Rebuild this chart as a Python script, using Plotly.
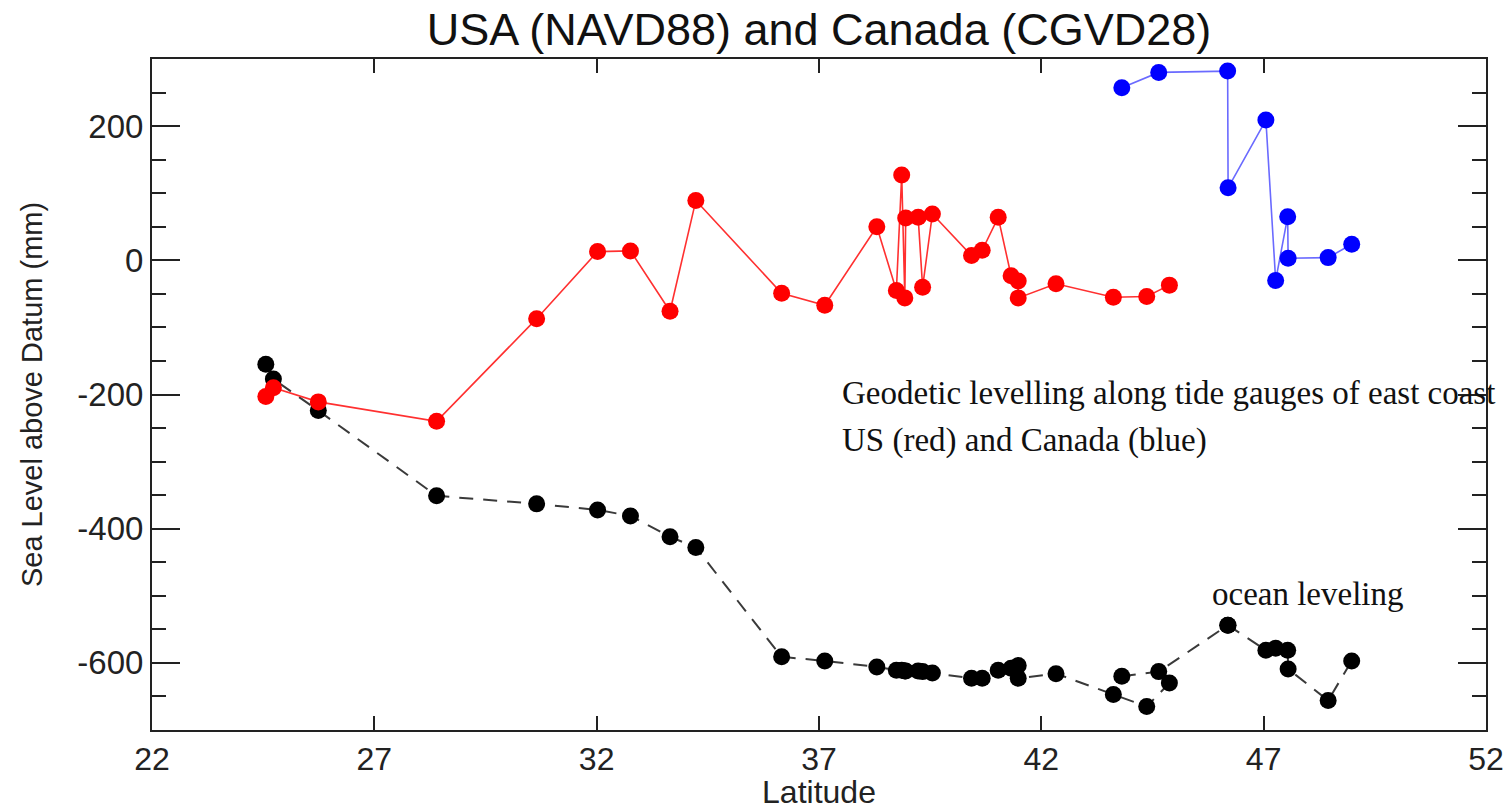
import plotly.graph_objects as go

# ---- data ----
lat_us = [24.56, 24.73, 25.74, 28.40, 30.65, 32.02, 32.76, 33.65, 34.23, 36.16,
          37.13, 38.30, 38.74, 38.86, 38.93, 38.95, 39.23, 39.33, 39.55, 40.43,
          40.67, 41.03, 41.32, 41.48, 41.48, 42.33, 43.62, 44.37, 44.88]
geodetic_us = [-203, -190, -211, -240, -87, 13, 14, -76, 89, -49,
               -67, 50, -45, 127, -56, 63, 64, -40, 69, 7,
               15, 64, -23, -31, -56, -35, -55, -54, -37]
ocean_us = [-155, -177, -224, -351, -363, -372, -381, -412, -428, -591,
            -597, -606, -611, -611, -612, -612, -612, -613, -615, -623,
            -623, -611, -608, -604, -623, -616, -647, -665, -630]

lat_ca = [43.81, 44.64, 46.19, 46.20, 47.05, 47.27, 47.54, 47.55, 48.45, 48.98]
geodetic_ca = [257, 280, 282, 108, 209, -30, 65, 3, 4, 24]
ocean_ca = [-620, -613, -544, -544, -581, -578, -581, -609, -656, -597]

x_ticks = [22, 27, 32, 37, 42, 47, 52]
y_ticks = [-600, -400, -200, 0, 200]
y_ticktext = ["-600", "-400", "-200", "0", "200"]

title_text = "USA (NAVD88) and Canada (CGVD28)"
note_line1 = "Geodetic levelling along tide gauges of east coast"
note_line2 = "US (red) and Canada (blue)"
note_ocean = "ocean leveling"

SANS = "Liberation Sans, Arial, sans-serif"
SERIF = "Liberation Serif, Times New Roman, serif"
AX = "#222222"

fig = go.Figure()

dash_style = "14px,10px"
fig.add_trace(go.Scatter(x=lat_us, y=ocean_us, mode="lines+markers",
                         line=dict(color="#3a3a3a", width=2, dash=dash_style),
                         marker=dict(color="black", size=17), showlegend=False))
fig.add_trace(go.Scatter(x=lat_ca, y=ocean_ca, mode="lines+markers",
                         line=dict(color="#3a3a3a", width=2, dash=dash_style),
                         marker=dict(color="black", size=17), showlegend=False))
fig.add_trace(go.Scatter(x=lat_us, y=geodetic_us, mode="lines+markers",
                         line=dict(color="#ff3030", width=1.6),
                         marker=dict(color="#ff0000", size=17), showlegend=False))
fig.add_trace(go.Scatter(x=lat_ca, y=geodetic_ca, mode="lines+markers",
                         line=dict(color="#6a6aff", width=1.6),
                         marker=dict(color="#0000ff", size=17), showlegend=False))

fig.update_layout(
    width=1511, height=810,
    margin=dict(l=152, r=25, t=59, b=80, autoexpand=False),
    paper_bgcolor="white", plot_bgcolor="white",
    title=dict(text=title_text, x=0.542, xanchor="center", y=1 - 29 / 810,
               yanchor="middle", yref="container", automargin=False,
               font=dict(family=SANS, size=45, color="#111111")),
    font=dict(family=SANS, color=AX),
)

fig.update_xaxes(
    range=[22, 52], tickvals=x_ticks, ticks="inside", ticklen=14, tickwidth=2,
    tickcolor=AX, showline=True, linewidth=2, linecolor=AX, mirror="ticks",
    showgrid=False, zeroline=False, automargin=False,
    tickfont=dict(family=SANS, size=32, color=AX),
    title=dict(text="Latitude", font=dict(family=SANS, size=32, color=AX), standoff=4),
)
fig.update_yaxes(
    range=[-700, 300], tickvals=y_ticks, ticktext=y_ticktext, ticks="inside",
    ticklen=28, tickwidth=2, tickcolor=AX, showline=True, linewidth=2,
    linecolor=AX, mirror="ticks", showgrid=False, zeroline=False, automargin=False,
    minor=dict(dtick=50, tick0=0, ticks="inside", ticklen=14, tickwidth=2,
               tickcolor=AX, showgrid=False),
    tickfont=dict(family=SANS, size=33, color=AX),
    title=dict(text="Sea Level above Datum (mm)",
               font=dict(family=SANS, size=29, color=AX), standoff=26),
)

fig.add_annotation(x=37.47, y=-198, xref="x", yref="y", text=note_line1,
                   showarrow=False, xanchor="left", yanchor="middle",
                   font=dict(family=SERIF, size=33, color="#111111"))
fig.add_annotation(x=37.47, y=-269, xref="x", yref="y", text=note_line2,
                   showarrow=False, xanchor="left", yanchor="middle",
                   font=dict(family=SERIF, size=33, color="#111111"))
fig.add_annotation(x=45.79, y=-497, xref="x", yref="y", text=note_ocean,
                   showarrow=False, xanchor="left", yanchor="middle",
                   font=dict(family=SERIF, size=33, color="#111111"))

fig.write_html("out.html")
